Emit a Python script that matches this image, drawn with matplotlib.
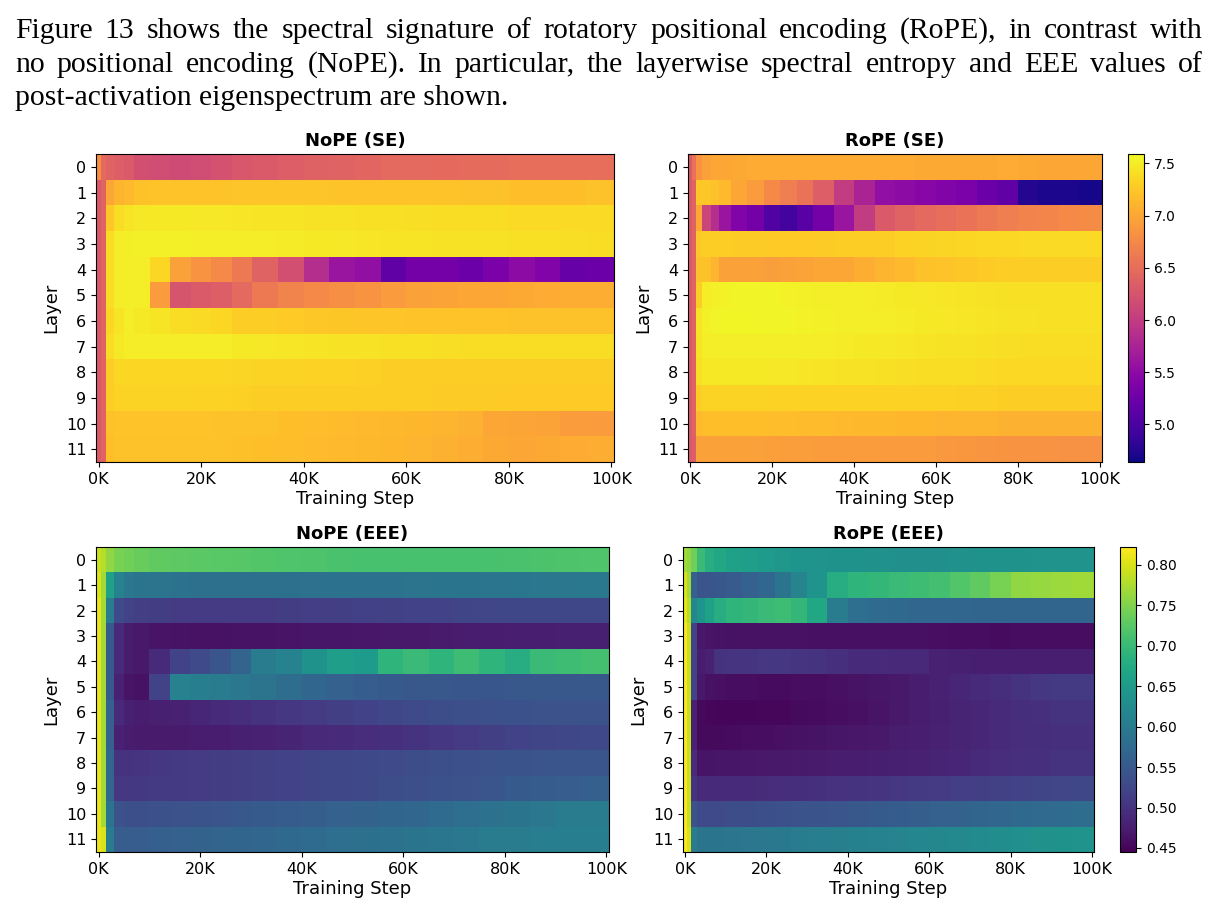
import matplotlib
matplotlib.use("Agg")
import matplotlib.pyplot as plt
import numpy as np

# ── Data ──────────────────────────────────────────────────────────────────────
# training-step segment edges (in K steps); each value below covers one segment
STEP_EDGES = [-0.5, 0.5, 1.5, 3, 5, 7, 10, 14, 18, 22, 26, 30, 35, 40, 45,
              50, 55, 60, 65, 70, 75, 80, 85, 90, 95, 100.5]
LAYERS = list(range(12))
XTICKS = [0, 20, 40, 60, 80, 100]
XTICK_LABELS = ["0K", "20K", "40K", "60K", "80K", "100K"]

NOPE_SE = [
    [6.8, 6.45, 6.4, 6.35, 6.3, 6.2, 6.18, 6.15, 6.18, 6.22, 6.28, 6.3, 6.35, 6.38, 6.4, 6.42, 6.45, 6.45, 6.47, 6.48, 6.48, 6.5, 6.5, 6.5, 6.5],
    [6.3, 6.4, 7.0, 7.1, 7.15, 7.2, 7.22, 7.22, 7.22, 7.22, 7.23, 7.23, 7.23, 7.23, 7.22, 7.22, 7.22, 7.22, 7.21, 7.2, 7.2, 7.18, 7.18, 7.18, 7.2],
    [6.3, 6.4, 7.25, 7.4, 7.45, 7.47, 7.48, 7.48, 7.47, 7.47, 7.46, 7.45, 7.45, 7.44, 7.43, 7.42, 7.42, 7.41, 7.4, 7.4, 7.39, 7.38, 7.38, 7.38, 7.38],
    [6.3, 6.4, 7.4, 7.5, 7.52, 7.53, 7.53, 7.53, 7.52, 7.52, 7.5, 7.5, 7.49, 7.48, 7.47, 7.46, 7.45, 7.45, 7.44, 7.43, 7.43, 7.42, 7.42, 7.41, 7.4],
    [6.3, 6.4, 7.4, 7.5, 7.52, 7.5, 7.35, 6.95, 6.85, 6.75, 6.6, 6.4, 6.2, 5.85, 5.6, 5.55, 5.15, 5.3, 5.3, 5.25, 5.35, 5.5, 5.4, 5.2, 5.25],
    [6.3, 6.4, 7.4, 7.5, 7.52, 7.5, 6.9, 6.25, 6.3, 6.35, 6.45, 6.6, 6.7, 6.75, 6.8, 6.85, 6.9, 6.95, 6.97, 7.0, 7.0, 7.02, 7.03, 7.05, 7.05],
    [6.3, 6.4, 7.35, 7.45, 7.5, 7.48, 7.45, 7.4, 7.38, 7.35, 7.3, 7.28, 7.26, 7.25, 7.24, 7.23, 7.23, 7.22, 7.22, 7.22, 7.22, 7.2, 7.2, 7.2, 7.2],
    [6.3, 6.4, 7.4, 7.48, 7.5, 7.5, 7.5, 7.5, 7.5, 7.5, 7.48, 7.47, 7.46, 7.45, 7.44, 7.43, 7.42, 7.42, 7.41, 7.4, 7.4, 7.4, 7.4, 7.4, 7.4],
    [6.3, 6.4, 7.3, 7.35, 7.35, 7.35, 7.35, 7.35, 7.35, 7.35, 7.34, 7.33, 7.33, 7.32, 7.32, 7.31, 7.3, 7.3, 7.3, 7.3, 7.3, 7.3, 7.3, 7.3, 7.3],
    [6.3, 6.4, 7.28, 7.32, 7.33, 7.33, 7.33, 7.33, 7.32, 7.32, 7.31, 7.3, 7.3, 7.3, 7.29, 7.28, 7.28, 7.28, 7.27, 7.27, 7.27, 7.26, 7.26, 7.26, 7.26],
    [6.3, 6.4, 7.2, 7.22, 7.22, 7.22, 7.22, 7.22, 7.21, 7.2, 7.2, 7.2, 7.18, 7.17, 7.16, 7.15, 7.14, 7.12, 7.1, 7.08, 7.0, 6.98, 6.97, 6.92, 6.9],
    [6.3, 6.4, 7.18, 7.2, 7.2, 7.2, 7.2, 7.2, 7.2, 7.2, 7.19, 7.18, 7.17, 7.16, 7.15, 7.14, 7.12, 7.1, 7.08, 7.05, 7.02, 7.0, 7.02, 7.03, 7.05],
]

ROPE_SE = [
    [6.3, 6.55, 6.85, 6.95, 7.0, 7.0, 7.02, 7.03, 7.03, 7.03, 7.03, 7.03, 7.03, 7.03, 7.03, 7.03, 7.02, 7.02, 7.02, 7.02, 7.03, 7.02, 7.0, 7.0, 7.0],
    [6.3, 6.4, 7.25, 7.25, 7.2, 7.15, 7.0, 6.9, 6.75, 6.65, 6.55, 6.35, 6.0, 5.75, 5.55, 5.5, 5.45, 5.4, 5.35, 5.25, 5.15, 4.75, 4.72, 4.7, 4.68],
    [6.3, 6.4, 7.0, 6.1, 5.85, 5.6, 5.4, 5.3, 5.05, 4.95, 5.1, 5.3, 5.6, 6.0, 6.3, 6.4, 6.45, 6.5, 6.55, 6.6, 6.65, 6.7, 6.72, 6.75, 6.78],
    [6.3, 6.4, 7.25, 7.28, 7.28, 7.28, 7.27, 7.27, 7.27, 7.26, 7.26, 7.27, 7.28, 7.3, 7.3, 7.32, 7.33, 7.34, 7.35, 7.36, 7.37, 7.38, 7.38, 7.38, 7.38],
    [6.3, 6.4, 7.2, 7.2, 7.1, 6.95, 6.95, 6.95, 6.93, 6.95, 6.97, 7.0, 7.0, 7.05, 7.1, 7.15, 7.2, 7.22, 7.25, 7.27, 7.28, 7.3, 7.3, 7.3, 7.3],
    [6.3, 6.4, 7.3, 7.5, 7.53, 7.54, 7.55, 7.55, 7.55, 7.54, 7.53, 7.52, 7.52, 7.5, 7.49, 7.48, 7.47, 7.46, 7.45, 7.44, 7.42, 7.42, 7.42, 7.42, 7.42],
    [6.3, 6.4, 7.45, 7.53, 7.55, 7.56, 7.56, 7.56, 7.55, 7.55, 7.54, 7.53, 7.52, 7.51, 7.5, 7.49, 7.48, 7.47, 7.46, 7.45, 7.44, 7.43, 7.42, 7.42, 7.42],
    [6.3, 6.4, 7.45, 7.5, 7.52, 7.52, 7.52, 7.52, 7.52, 7.51, 7.5, 7.5, 7.49, 7.48, 7.47, 7.46, 7.45, 7.44, 7.43, 7.42, 7.41, 7.4, 7.4, 7.4, 7.4],
    [6.3, 6.4, 7.42, 7.47, 7.48, 7.48, 7.48, 7.48, 7.47, 7.47, 7.46, 7.45, 7.44, 7.43, 7.42, 7.41, 7.4, 7.4, 7.39, 7.38, 7.37, 7.36, 7.36, 7.36, 7.36],
    [6.3, 6.4, 7.3, 7.32, 7.33, 7.33, 7.33, 7.33, 7.32, 7.32, 7.32, 7.32, 7.32, 7.32, 7.32, 7.32, 7.32, 7.32, 7.31, 7.31, 7.3, 7.3, 7.3, 7.3, 7.3],
    [6.3, 6.4, 7.15, 7.18, 7.18, 7.18, 7.18, 7.18, 7.17, 7.17, 7.16, 7.16, 7.15, 7.14, 7.13, 7.12, 7.12, 7.1, 7.1, 7.1, 7.08, 7.08, 7.08, 7.08, 7.08],
    [6.3, 6.35, 6.95, 6.95, 6.95, 6.95, 6.95, 6.95, 6.94, 6.93, 6.93, 6.92, 6.92, 6.92, 6.9, 6.9, 6.9, 6.88, 6.87, 6.86, 6.85, 6.85, 6.83, 6.82, 6.82],
]

NOPE_EEE = [
    [0.79, 0.78, 0.76, 0.745, 0.74, 0.735, 0.73, 0.728, 0.726, 0.724, 0.722, 0.72, 0.718, 0.716, 0.714, 0.713, 0.712, 0.712, 0.712, 0.712, 0.713, 0.714, 0.715, 0.716, 0.718],
    [0.8, 0.77, 0.66, 0.61, 0.595, 0.59, 0.588, 0.585, 0.583, 0.582, 0.582, 0.582, 0.583, 0.584, 0.585, 0.586, 0.587, 0.588, 0.59, 0.59, 0.592, 0.593, 0.594, 0.595, 0.596],
    [0.81, 0.77, 0.6, 0.53, 0.52, 0.515, 0.512, 0.51, 0.51, 0.51, 0.51, 0.51, 0.512, 0.514, 0.515, 0.516, 0.518, 0.52, 0.52, 0.522, 0.524, 0.525, 0.525, 0.525, 0.525],
    [0.81, 0.77, 0.55, 0.49, 0.475, 0.47, 0.465, 0.463, 0.462, 0.462, 0.463, 0.464, 0.465, 0.466, 0.467, 0.468, 0.47, 0.47, 0.472, 0.474, 0.475, 0.476, 0.477, 0.478, 0.478],
    [0.81, 0.77, 0.55, 0.49, 0.475, 0.47, 0.49, 0.52, 0.53, 0.545, 0.565, 0.6, 0.61, 0.635, 0.655, 0.65, 0.69, 0.7, 0.69, 0.705, 0.69, 0.68, 0.7, 0.705, 0.71],
    [0.81, 0.77, 0.55, 0.48, 0.465, 0.462, 0.52, 0.61, 0.605, 0.6, 0.595, 0.588, 0.578, 0.568, 0.56, 0.555, 0.55, 0.548, 0.547, 0.546, 0.546, 0.547, 0.548, 0.548, 0.548],
    [0.81, 0.77, 0.56, 0.49, 0.478, 0.475, 0.478, 0.48, 0.485, 0.49, 0.495, 0.5, 0.505, 0.51, 0.515, 0.52, 0.525, 0.53, 0.533, 0.535, 0.537, 0.538, 0.54, 0.54, 0.54],
    [0.81, 0.77, 0.56, 0.48, 0.475, 0.472, 0.472, 0.472, 0.473, 0.475, 0.478, 0.48, 0.483, 0.487, 0.49, 0.493, 0.497, 0.5, 0.505, 0.51, 0.515, 0.52, 0.523, 0.525, 0.527],
    [0.81, 0.77, 0.57, 0.5, 0.5, 0.502, 0.505, 0.507, 0.51, 0.512, 0.515, 0.518, 0.52, 0.523, 0.525, 0.528, 0.53, 0.533, 0.535, 0.537, 0.54, 0.542, 0.544, 0.545, 0.545],
    [0.81, 0.77, 0.57, 0.505, 0.505, 0.506, 0.507, 0.508, 0.51, 0.512, 0.515, 0.518, 0.52, 0.523, 0.525, 0.528, 0.532, 0.535, 0.538, 0.54, 0.545, 0.55, 0.553, 0.555, 0.557],
    [0.81, 0.77, 0.59, 0.54, 0.535, 0.535, 0.537, 0.54, 0.542, 0.545, 0.548, 0.55, 0.553, 0.556, 0.56, 0.563, 0.567, 0.57, 0.575, 0.58, 0.585, 0.59, 0.595, 0.6, 0.6],
    [0.81, 0.8, 0.6, 0.555, 0.555, 0.555, 0.557, 0.56, 0.562, 0.565, 0.567, 0.57, 0.573, 0.576, 0.58, 0.583, 0.586, 0.59, 0.593, 0.596, 0.6, 0.602, 0.604, 0.605, 0.605],
]

ROPE_EEE = [
    [0.77, 0.76, 0.74, 0.7, 0.68, 0.67, 0.66, 0.655, 0.65, 0.645, 0.64, 0.638, 0.636, 0.635, 0.634, 0.633, 0.633, 0.633, 0.634, 0.635, 0.636, 0.637, 0.638, 0.638, 0.638],
    [0.8, 0.77, 0.56, 0.545, 0.545, 0.548, 0.552, 0.56, 0.57, 0.59, 0.615, 0.64, 0.68, 0.69, 0.695, 0.7, 0.705, 0.71, 0.72, 0.73, 0.745, 0.76, 0.762, 0.765, 0.768],
    [0.81, 0.78, 0.62, 0.64, 0.66, 0.68, 0.69, 0.695, 0.7, 0.705, 0.695, 0.67, 0.6, 0.58, 0.575, 0.572, 0.57, 0.57, 0.568, 0.567, 0.567, 0.566, 0.566, 0.566, 0.566],
    [0.82, 0.79, 0.52, 0.47, 0.465, 0.463, 0.462, 0.462, 0.462, 0.462, 0.462, 0.461, 0.46, 0.46, 0.46, 0.46, 0.46, 0.459, 0.458, 0.457, 0.456, 0.457, 0.458, 0.458, 0.458],
    [0.82, 0.79, 0.52, 0.475, 0.48, 0.5, 0.502, 0.503, 0.505, 0.505, 0.503, 0.5, 0.498, 0.49, 0.49, 0.488, 0.487, 0.48, 0.478, 0.477, 0.476, 0.476, 0.476, 0.476, 0.476],
    [0.82, 0.79, 0.52, 0.47, 0.462, 0.46, 0.458, 0.457, 0.456, 0.456, 0.457, 0.458, 0.46, 0.463, 0.466, 0.47, 0.475, 0.48, 0.485, 0.49, 0.495, 0.5, 0.505, 0.507, 0.508],
    [0.82, 0.79, 0.48, 0.455, 0.452, 0.45, 0.45, 0.45, 0.451, 0.452, 0.454, 0.456, 0.458, 0.461, 0.465, 0.47, 0.474, 0.478, 0.482, 0.486, 0.49, 0.494, 0.497, 0.5, 0.5],
    [0.82, 0.79, 0.48, 0.455, 0.455, 0.455, 0.456, 0.457, 0.458, 0.46, 0.462, 0.464, 0.466, 0.468, 0.47, 0.473, 0.476, 0.48, 0.483, 0.486, 0.49, 0.493, 0.495, 0.497, 0.498],
    [0.82, 0.79, 0.49, 0.465, 0.465, 0.466, 0.467, 0.468, 0.469, 0.47, 0.471, 0.472, 0.473, 0.474, 0.476, 0.478, 0.48, 0.483, 0.486, 0.49, 0.493, 0.496, 0.498, 0.5, 0.5],
    [0.82, 0.79, 0.5, 0.49, 0.49, 0.49, 0.49, 0.49, 0.492, 0.493, 0.495, 0.497, 0.499, 0.5, 0.502, 0.505, 0.508, 0.51, 0.513, 0.515, 0.518, 0.52, 0.522, 0.524, 0.525],
    [0.82, 0.79, 0.54, 0.53, 0.53, 0.53, 0.532, 0.533, 0.535, 0.537, 0.54, 0.542, 0.545, 0.547, 0.55, 0.553, 0.556, 0.56, 0.563, 0.566, 0.57, 0.572, 0.574, 0.576, 0.578],
    [0.82, 0.8, 0.6, 0.59, 0.59, 0.59, 0.592, 0.594, 0.596, 0.598, 0.6, 0.603, 0.606, 0.609, 0.612, 0.615, 0.618, 0.62, 0.623, 0.626, 0.63, 0.632, 0.634, 0.636, 0.638],
]

SE_RANGE = (4.64, 7.59)
EEE_RANGE = (0.445, 0.822)
SE_TICKS = [5.0, 5.5, 6.0, 6.5, 7.0, 7.5]
EEE_TICKS = [0.45, 0.50, 0.55, 0.60, 0.65, 0.70, 0.75, 0.80]

PARAGRAPH = [
    "Figure 13 shows the spectral signature of rotatory positional encoding (RoPE), in contrast with",
    "no positional encoding (NoPE). In particular, the layerwise spectral entropy and EEE values of",
    "post-activation eigenspectrum are shown.",
]

# ── Figure ────────────────────────────────────────────────────────────────────
W, H = 1218, 919
fig = plt.figure(figsize=(W / 100, H / 100), dpi=100)


def px_box(left, right, top, bottom):
    return [left / W, 1 - bottom / H, (right - left) / W, (bottom - top) / H]


# paragraph (justified like the paper text)
renderer = fig.canvas.get_renderer()
text_kw = dict(fontsize=21.3, family="Liberation Serif", va="baseline")
x_left, x_right = 15, 1203
for i, (line, base) in enumerate(zip(PARAGRAPH, [38, 72, 105])):
    yf = 1 - base / H
    if i == len(PARAGRAPH) - 1:
        fig.text(x_left / W, yf, line, **text_kw)
        continue
    words = line.split()
    widths = []
    for w in words:
        t = fig.text(0, 0, w, **text_kw)
        widths.append(t.get_window_extent(renderer).width)
        t.remove()
    gap = (x_right - x_left - sum(widths)) / (len(words) - 1)
    x = x_left
    for w, wd in zip(words, widths):
        fig.text(x / W, yf, w, **text_kw)
        x += wd + gap

layer_edges = np.arange(len(LAYERS) + 1) - 0.5

panels = [
    ("NoPE (SE)", NOPE_SE, "plasma", SE_RANGE, px_box(96, 614, 154, 462), None),
    ("RoPE (SE)", ROPE_SE, "plasma", SE_RANGE, px_box(688, 1102, 154, 462),
     (px_box(1128, 1144, 154, 462), SE_TICKS, "{:.1f}")),
    ("NoPE (EEE)", NOPE_EEE, "viridis", EEE_RANGE, px_box(96, 609, 547, 852), None),
    ("RoPE (EEE)", ROPE_EEE, "viridis", EEE_RANGE, px_box(683, 1094, 547, 852),
     (px_box(1120, 1136, 547, 852), EEE_TICKS, "{:.2f}")),
]

for title, values, cmap, (vmin, vmax), box, cbar in panels:
    ax = fig.add_axes(box)
    mesh = ax.pcolormesh(STEP_EDGES, layer_edges, np.array(values), cmap=cmap,
                         vmin=vmin, vmax=vmax, shading="flat",
                         edgecolors="face", linewidth=0)
    ax.set_xlim(STEP_EDGES[0], STEP_EDGES[-1])
    ax.set_ylim(layer_edges[-1], layer_edges[0])
    ax.set_xticks(XTICKS)
    ax.set_xticklabels(XTICK_LABELS)
    ax.set_yticks(LAYERS)
    ax.tick_params(labelsize=11.5)
    ax.set_xlabel("Training Step", fontsize=13, labelpad=2)
    ax.set_ylabel("Layer", fontsize=13, labelpad=4)
    ax.set_title(title, fontsize=13, fontweight="bold", pad=6)
    if cbar is not None:
        cbox, cticks, fmt = cbar
        cax = fig.add_axes(cbox)
        cb = fig.colorbar(mesh, cax=cax)
        cb.set_ticks(cticks)
        cb.set_ticklabels([fmt.format(v) for v in cticks])
        cb.ax.tick_params(labelsize=10)

fig.savefig("out.png", dpi=100)
print("Saved: out.png")
